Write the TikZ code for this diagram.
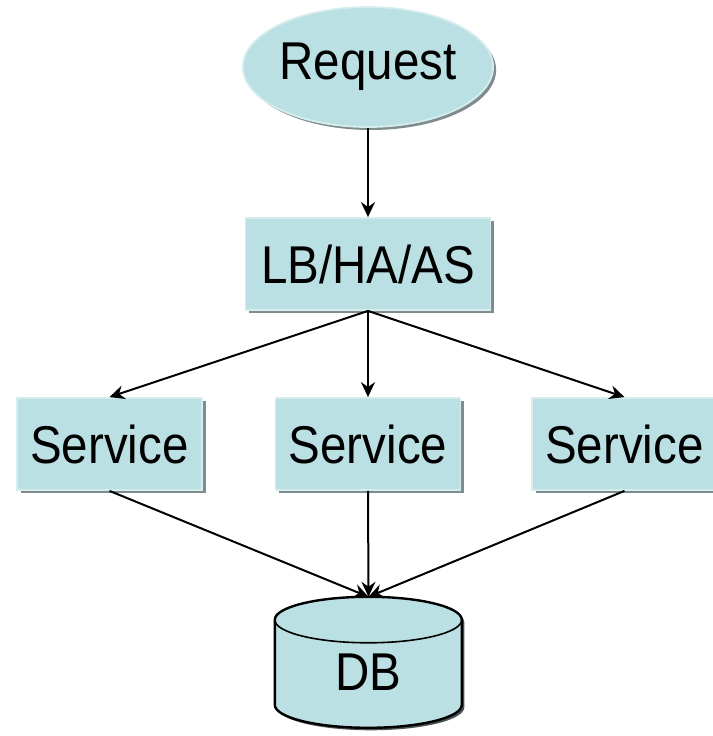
\documentclass[tikz,border=0pt]{standalone}
\usepackage{fontspec}
\setmainfont{Liberation Sans}
\usetikzlibrary{shapes.geometric,arrows.meta,shadows}
\definecolor{boxfill}{HTML}{BBE0E3}
\definecolor{boxedge}{HTML}{D6EDEF}
\definecolor{shadowgray}{HTML}{7E8C8D}
\newcommand{\tx}[1]{\scalebox{1}[1.12]{#1}}
\tikzset{
  box/.style={rectangle, fill=boxfill, draw=boxedge, line width=1.8pt, inner sep=0pt,
    minimum width=185pt, minimum height=92pt, font=\fontsize{47.5}{50}\selectfont,
    drop shadow={shadow xshift=3.5pt, shadow yshift=-3.5pt, fill=shadowgray, opacity=1}},
  oval/.style={ellipse, fill=boxfill, draw=boxedge, line width=1.8pt, inner sep=0pt,
    minimum width=240pt, minimum height=120pt, font=\fontsize{47.5}{50}\selectfont,
    drop shadow={shadow xshift=3pt, shadow yshift=-3pt, fill=shadowgray, opacity=1}},
  dbnode/.style={rectangle, inner sep=0pt, minimum width=187pt, minimum height=131pt},
  conn/.style={line width=2pt, -{Stealth[length=15pt,width=14pt,inset=5pt]}}
}
\begin{document}
\begin{tikzpicture}[x=1pt,y=1pt]
\useasboundingbox (0,0) rectangle (712,736);
% nodes
\node[oval] (req) at (368,669) {\tx{Request}};
\node[box, minimum width=245pt] (lb) at (368,472) {\tx{LB/HA/AS}};
\node[box] (s1) at (109.5,292) {\tx{Service}};
\node[box] (s2) at (368,292) {\tx{Service}};
\node[box] (s3) at (624.5,292) {\tx{Service}};
% database cylinder
\node[dbnode] (db) at (368.5,73.5) {};
\fill[shadowgray!60!black]
  ([xshift=2.5pt,yshift=-2.5pt]db.north west) ++(0,-23pt) -- ++(0,-85pt)
  arc[start angle=180,end angle=360,x radius=93.5pt,y radius=23pt]
  -- ++(0,85pt) arc[start angle=0,end angle=180,x radius=93.5pt,y radius=23pt] -- cycle;
\filldraw[fill=boxfill, draw=black, line width=2.4pt]
  (db.north west) ++(0,-23pt) -- ++(0,-85pt)
  arc[start angle=180,end angle=360,x radius=93.5pt,y radius=23pt]
  -- ++(0,85pt) arc[start angle=0,end angle=180,x radius=93.5pt,y radius=23pt] -- cycle;
\draw[line width=1.6pt] (db.north west) ++(0,-23pt)
  arc[start angle=180,end angle=360,x radius=93.5pt,y radius=23pt];
\node[font=\fontsize{47.5}{50}\selectfont] (dblabel) at ([yshift=-10pt]db.center) {\tx{DB}};
% connectors
\draw[conn] (req.south) -- (lb.north);
\draw[conn] (lb.south) -- (s1.north);
\draw[conn] (lb.south) -- (s2.north);
\draw[conn] (lb.south) -- (s3.north);
\draw[conn] (s1.south) -- (db.north);
\draw[conn] (s2.south) -- (db.north);
\draw[conn] (s3.south) -- (db.north);
\end{tikzpicture}
\end{document}
